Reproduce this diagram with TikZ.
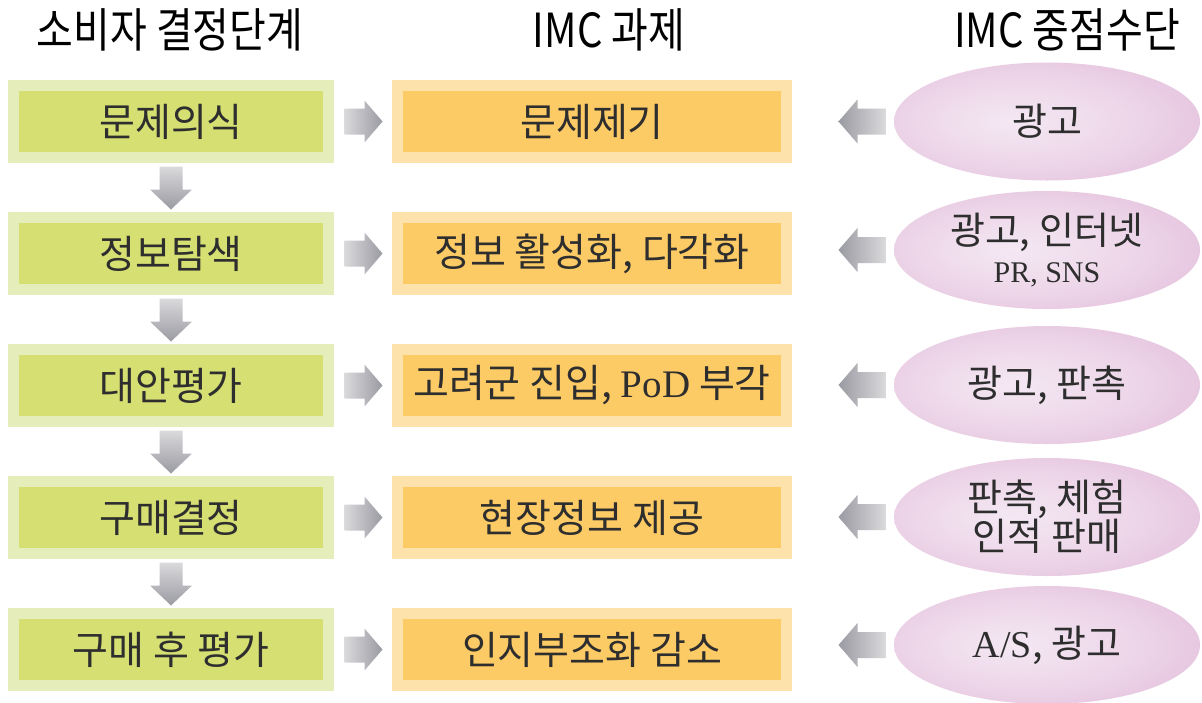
\documentclass[tikz,border=0pt]{standalone}
\usepackage{fontspec}
\setmainfont{Noto Sans CJK KR}
\newfontfamily\hfont[FakeStretch=0.85]{Noto Sans CJK KR}
\newfontfamily\lat{Liberation Serif}
\usetikzlibrary{calc,shapes.geometric}
\definecolor{gout}{HTML}{E5EDBA}
\definecolor{gin}{HTML}{D5DF72}
\definecolor{oout}{HTML}{FDE2AB}
\definecolor{oin}{HTML}{FDCB65}
\definecolor{pkin}{HTML}{F4E8F3}
\definecolor{pkout}{HTML}{D9A5CD}
\definecolor{txt}{HTML}{2E2E2E}
\definecolor{arl}{HTML}{DADADC}
\definecolor{ard}{HTML}{9A9AA2}
\pgfdeclareradialshading{ellsh}{\pgfpoint{-6bp}{0bp}}{color(0bp)=(pkin); color(20bp)=(pkin!70!pkout); color(50bp)=(pkout)}
\newcommand\rarr[2]{\path[rsh] let \p1=($(#1.east)+(10.5,0)$), \p2=($(#2.west)+(-9.5,0)$) in
  (\x1,\y1+13pt) -- (\x2-18pt,\y1+13pt) -- (\x2-18pt,\y1+21pt) -- (\x2,\y1) -- (\x2-18pt,\y1-21pt) -- (\x2-18pt,\y1-13pt) -- (\x1,\y1-13pt) -- cycle;}
\newcommand\larr[2]{\path[lsh] let \p1=($(#1.west)+(-8,0)$), \p2=($(#2.east)+(46.5,0)$) in
  (\x1,\y1+13pt) -- (\x2+19pt,\y1+13pt) -- (\x2+19pt,\y1+22pt) -- (\x2,\y1) -- (\x2+19pt,\y1-22pt) -- (\x2+19pt,\y1-13pt) -- (\x1,\y1-13pt) -- cycle;}
\newcommand\darr[2]{\path[dsh] let \p1=($(#1.south)+(0,3.5)$), \p2=($(#2.north)+(0,-2.5)$) in
  (\x1-11.5pt,\y1) -- (\x1-11.5pt,\y2+20pt) -- (\x1-21pt,\y2+20pt) -- (\x2,\y2) -- (\x1+21pt,\y2+20pt) -- (\x1+11.5pt,\y2+20pt) -- (\x1+11.5pt,\y1) -- cycle;}
\begin{document}
\begin{tikzpicture}[x=1pt,y=-1pt,
  hdr/.style={inner sep=0, font=\hfont\fontsize{47}{50}\selectfont, text=black},
  gbox/.style={draw=gout, fill=gin, line width=11, minimum width=315, minimum height=72, inner sep=0, font=\fontsize{39}{42}\selectfont, text=txt},
  obox/.style={draw=oout, fill=oin, line width=11, minimum width=389, minimum height=72, inner sep=0, font=\fontsize{39}{42}\selectfont, text=txt},
  ell/.style={ellipse, shading=ellsh, minimum width=306, minimum height=118, inner sep=0, align=center, font=\fontsize{38}{42}\selectfont, text=txt},
  rsh/.style={left color=arl, right color=ard},
  lsh/.style={left color=ard, right color=arl},
  dsh/.style={top color=arl, bottom color=ard}]
\useasboundingbox (0,0) rectangle (1202,702);
\fill[white] (0,0) rectangle (1202,702);
% headers
\node[hdr] (h1) at (170,30) {소비자 결정단계};
\node[hdr] (h2) at (609,30) {IMC 과제};
\node[hdr] (h3) at (1067,30) {IMC 중점수단};
% left column
\node[gbox] (g1) at (171,121.5) {문제의식};
\node[gbox] (g2) at (171,253.5) {정보탐색};
\node[gbox] (g3) at (171,385.5) {대안평가};
\node[gbox] (g4) at (171,517.5) {구매결정};
\node[gbox] (g5) at (171,649.5) {구매 후 평가};
% middle column
\node[obox] (o1) at (592,121.5) {문제제기};
\node[obox] (o2) at (592,253.5) {정보 활성화, 다각화};
\node[obox] (o3) at (592,385.5) {고려군 진입, {\lat PoD} 부각};
\node[obox] (o4) at (592,517.5) {현장정보 제공};
\node[obox] (o5) at (592,649.5) {인지부조화 감소};
% right column
\node[ell] (e1) at (1047,121.5) {광고};
\node[ell] (e2) at (1047,250) {광고, 인터넷\\[-4pt]{\lat\fontsize{30}{32}\selectfont PR, SNS}};
\node[ell] (e3) at (1047,385) {광고, 판촉};
\node[ell] (e4) at (1047,517) {판촉, 체험\\[-3pt]인적 판매};
\node[ell] (e5) at (1047,645) {{\lat A/S}, 광고};
% arrows
\foreach \i in {1,...,5}{\rarr{g\i}{o\i}\larr{e\i}{o\i}}
\foreach \i/\j in {1/2,2/3,3/4,4/5}{\darr{g\i}{g\j}}
\end{tikzpicture}
\end{document}
